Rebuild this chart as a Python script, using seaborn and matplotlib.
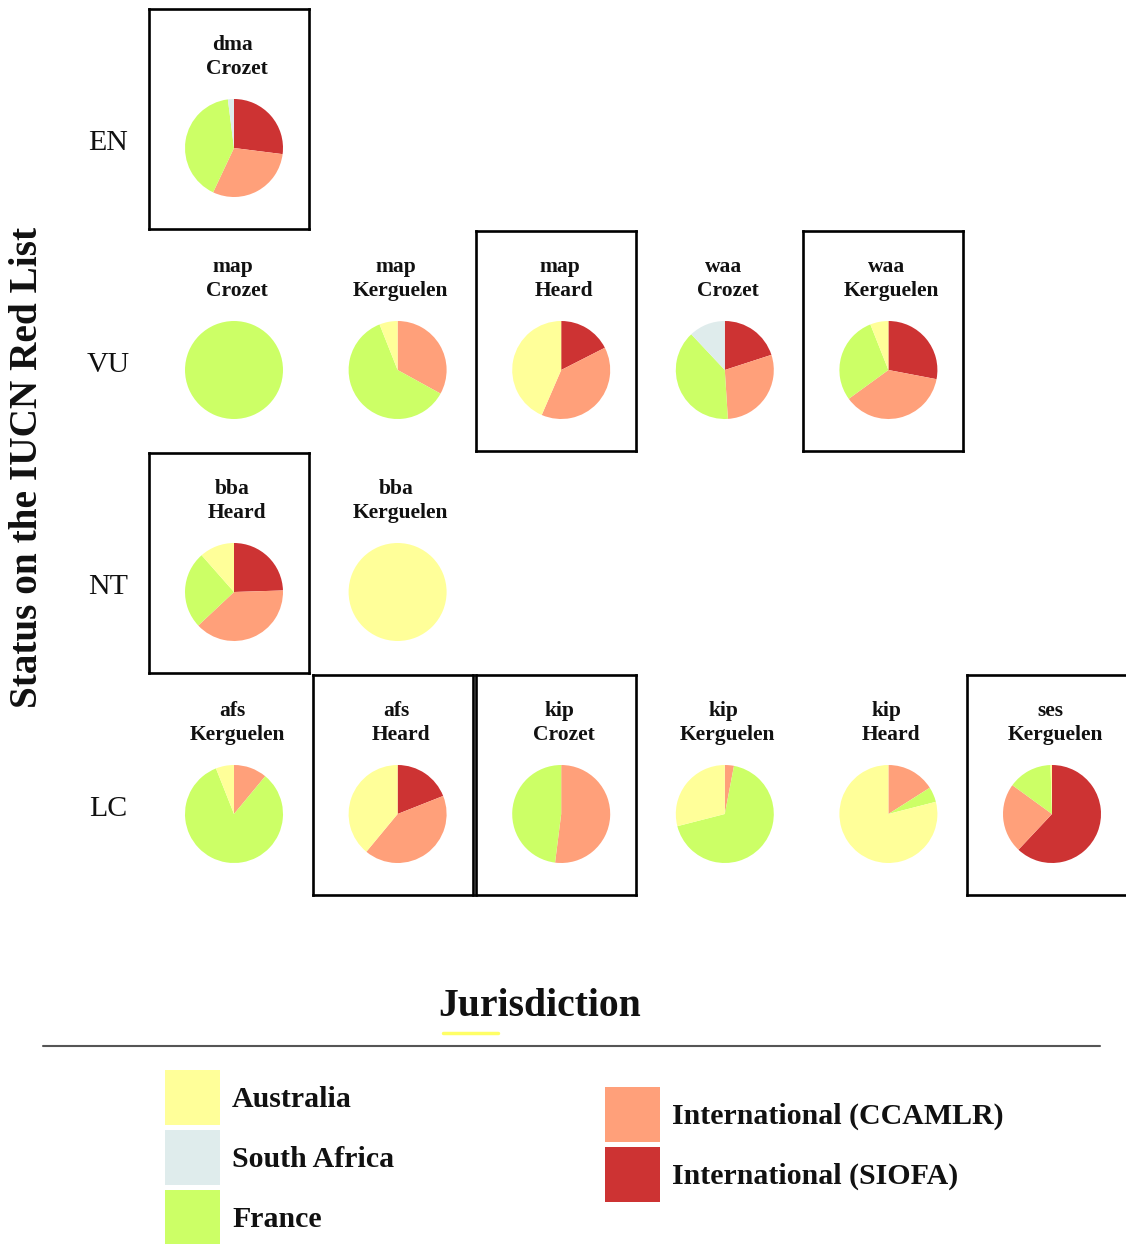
import numpy as np
import pandas as pd
import seaborn as sns
import matplotlib
matplotlib.use("Agg")
import matplotlib.pyplot as plt
from matplotlib.patches import Patch
from matplotlib.lines import Line2D

# ---------------- data ----------------
statuses = ["EN", "VU", "NT", "LC"]
species = ["dma", "map", "map", "map", "waa", "waa", "bba", "bba",
           "afs", "afs", "kip", "kip", "kip", "ses"]
sites = ["Crozet", "Crozet", "Kerguelen", "Heard", "Crozet", "Kerguelen",
         "Heard", "Kerguelen", "Kerguelen", "Heard", "Crozet", "Kerguelen",
         "Heard", "Kerguelen"]
status = ["EN", "VU", "VU", "VU", "VU", "VU", "NT", "NT",
          "LC", "LC", "LC", "LC", "LC", "LC"]
# share (%) of each jurisdiction
siofa = [27, 0, 0, 17.5, 20, 28, 24.5, 0, 0, 19, 0, 0, 0, 62]
ccamlr = [30, 0, 33, 39, 29, 37, 38.5, 0, 11, 42, 52, 3, 16, 23]
france = [41, 100, 61, 0, 39, 29, 25.5, 0, 83, 0, 48, 68, 5, 14.5]
south_africa = [2, 0, 0, 0, 12, 0, 0, 0, 0, 0, 0, 0, 0, 0]
australia = [0, 0, 6, 43.5, 0, 6, 11.5, 100, 6, 39, 0, 29, 79, 0.5]
boxed = [True, False, False, True, False, True, True, False,
         False, True, True, False, False, True]

jurisdictions = ["Australia", "South Africa", "France",
                 "International (CCAMLR)", "International (SIOFA)"]
jur_colors = ["#FFFF99", "#DFECEC", "#CCFF66", "#FFA07A", "#CD3333"]

df = pd.DataFrame({"species": species, "site": sites, "status": status,
                   "International (SIOFA)": siofa,
                   "International (CCAMLR)": ccamlr,
                   "France": france, "South Africa": south_africa,
                   "Australia": australia, "boxed": boxed})
df["col"] = df.groupby("status").cumcount()
df["row"] = df["status"].map({s: i for i, s in enumerate(statuses)})

# drawing order of wedges (clockwise from 12 o'clock)
wedge_order = ["International (SIOFA)", "International (CCAMLR)", "France",
               "South Africa", "Australia"]
color_map = dict(zip(jurisdictions, jur_colors))

# ---------------- style ----------------
sns.set_theme(style="white")
plt.rcParams["font.family"] = ["Liberation Serif", "DejaVu Serif"]
plt.rcParams["text.color"] = "#111111"

W, H = 1126, 1244
fig = plt.figure(figsize=(W / 100, H / 100), dpi=100)
fig.patch.set_facecolor("white")


def fx(x):
    return x / W


def fy(y):
    return 1 - y / H


CELL_W, CELL_H = 160, 220
COL0, COL_STEP = 149, 163.6
ROW0, ROW_STEP = 9, 222
PIE_R = 49

for _, r in df.iterrows():
    left = COL0 + COL_STEP * r["col"]
    top = ROW0 + ROW_STEP * r["row"]
    cax = fig.add_axes([fx(left), fy(top + CELL_H), CELL_W / W, CELL_H / H])
    cax.set_xticks([])
    cax.set_yticks([])
    cax.set_facecolor("none")
    for sp in cax.spines.values():
        sp.set_visible(bool(r["boxed"]))
        sp.set_linewidth(1.9)
        sp.set_color("black")
    cax.text(83.5 / CELL_W, 1 - 36 / CELL_H, r["species"], ha="center",
             va="center", fontsize=15.5, fontweight="bold",
             transform=cax.transAxes)
    cax.text(88 / CELL_W, 1 - 60 / CELL_H, r["site"], ha="center",
             va="center", fontsize=15.5, fontweight="bold",
             transform=cax.transAxes)

    cx, cy = left + 85, top + 139
    side = PIE_R * 2.5
    pax = fig.add_axes([fx(cx - side / 2), fy(cy + side / 2), side / W, side / H])
    vals = [r[j] for j in wedge_order]
    cols = [color_map[j] for j in wedge_order]
    keep = [(v, c) for v, c in zip(vals, cols) if v > 0]
    pax.pie([k[0] for k in keep], colors=[k[1] for k in keep],
            startangle=90, counterclock=False,
            wedgeprops=dict(linewidth=0))
    pax.set_xlim(-1.25, 1.25)
    pax.set_ylim(-1.25, 1.25)

# row labels
for i, s in enumerate(statuses):
    fig.text(fx(108), fy(ROW0 + ROW_STEP * i + 134), s, ha="center",
             va="center", fontsize=21.5)

# y axis title
fig.text(fx(28), fy(467), "Status on the IUCN Red List", rotation=90,
         ha="center", va="center", fontsize=28.3, fontweight="bold")

# legend title & rules
fig.text(fx(540), fy(1007), "Jurisdiction", ha="center", va="center",
         fontsize=28.5, fontweight="bold")
fig.add_artist(Line2D([fx(443), fx(498)], [fy(1033), fy(1033)],
                      color="#FFFF66", linewidth=2.5,
                      transform=fig.transFigure))
fig.add_artist(Line2D([fx(43), fx(1100)], [fy(1046), fy(1046)],
                      color="#555555", linewidth=1.5,
                      transform=fig.transFigure))

fs = 21.5
fs_px = fs * 100 / 72
hl = 55 / fs_px
hh = (55 / fs_px - 0.245) / 0.65
left_handles = [Patch(facecolor=color_map[j], edgecolor="none")
                for j in jurisdictions[:3]]
right_handles = [Patch(facecolor=color_map[j], edgecolor="none")
                 for j in jurisdictions[3:]]
leg_kw = dict(frameon=False, handlelength=hl, handleheight=hh,
              labelspacing=5 / fs_px, handletextpad=12 / fs_px,
              borderpad=0, borderaxespad=0, loc="upper left",
              prop=dict(family="Liberation Serif", weight="bold", size=fs))
fig.legend(left_handles, jurisdictions[:3],
           bbox_to_anchor=(fx(165), fy(1070)), **leg_kw)
fig.legend(right_handles, jurisdictions[3:],
           bbox_to_anchor=(fx(605), fy(1087)), **leg_kw)

fig.savefig("out.png", dpi=100, facecolor="white")
